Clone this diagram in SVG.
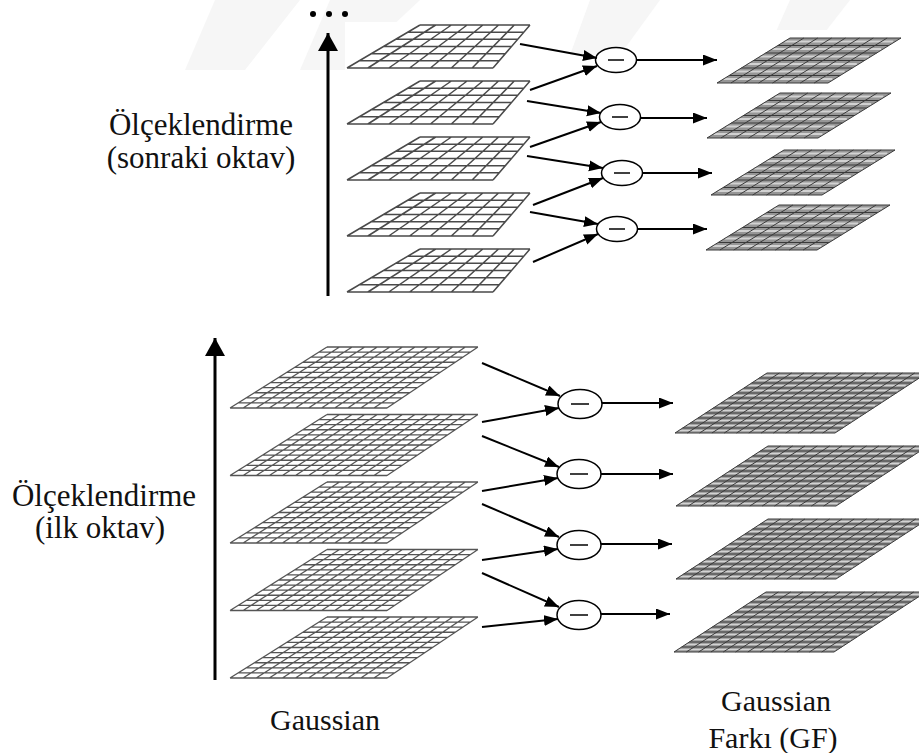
<svg xmlns="http://www.w3.org/2000/svg" xmlns:xlink="http://www.w3.org/1999/xlink" width="919" height="753" viewBox="0 0 919 753">
  <style>
    .lbl { font-family: "Liberation Serif", "Times New Roman", serif; font-size: 31px; fill: #111; text-anchor: middle; }
    .lbl2 { font-family: "Liberation Serif", "Times New Roman", serif; font-size: 30px; fill: #111; text-anchor: middle; }
    .gplane { fill: #ffffff; }
    .ggrid { fill: none; stroke: #4a4a4a; stroke-width: 1.5; }
    .ggridB { fill: none; stroke: #555; stroke-width: 1.3; }
    .dplane { fill: #969696; }
    .dhi { fill: none; stroke: #d2d2d2; stroke-width: 2; }
    .dgrid { fill: none; stroke: #3a3a3a; stroke-width: 1; }
    .conn { fill: none; stroke: #000; stroke-width: 2; }
    .axis { fill: none; stroke: #000; stroke-width: 3; }
    .op { fill: #fff; stroke: #000; stroke-width: 1.5; }
    .minus { stroke: #000; stroke-width: 1.5; }
    .wm { fill: #f6f6f6; }
  </style>
  <defs>
    <marker id="ah" markerUnits="userSpaceOnUse" markerWidth="15" markerHeight="12" refX="14" refY="5.5" orient="auto">
      <path d="M0,0 L14,5.5 L0,11 z" fill="#000"/>
    </marker>
    <marker id="ahBig" markerUnits="userSpaceOnUse" markerWidth="20" markerHeight="22" refX="18" refY="10" orient="auto">
      <path d="M0,0 L18,10 L0,20 z" fill="#000"/>
    </marker>

    <!-- upper octave Gaussian layer: 7 x 6 cells, slight perspective -->
    <g id="layerTopG">
      <polygon class="gplane" points="420,25 530,25 493,68 347,68"/>
      <path class="ggrid" d="M420,25 L347,68 M435.71,25 L367.86,68 M451.43,25 L388.71,68 M467.14,25 L409.57,68 M482.86,25 L430.43,68 M498.57,25 L451.29,68 M514.29,25 L472.14,68 M530,25 L493,68
        M420,25 L530,25 M407.83,32.17 L523.83,32.17 M395.67,39.33 L517.67,39.33 M383.5,46.5 L511.5,46.5 M371.33,53.67 L505.33,53.67 M359.17,60.83 L499.17,60.83 M347,68 L493,68"/>
    </g>

    <!-- upper octave difference layer: 8 x 6 shaded cells -->
    <g id="layerTopD">
      <polygon class="dplane" points="790,38 901,38 828,83 717,83"/>
      <path class="dhi" d="M784.3,41.5 h109 M772.2,49 h109 M760,56.5 h109 M747.8,64 h109 M735.7,71.5 h109 M723.5,79 h109"/>
      <path class="dgrid" d="M790,38 L717,83 M803.88,38 L730.88,83 M817.75,38 L744.75,83 M831.63,38 L758.63,83 M845.5,38 L772.5,83 M859.38,38 L786.38,83 M873.25,38 L800.25,83 M887.13,38 L814.13,83 M901,38 L828,83
        M790,38 h111 M777.83,45.5 h111 M765.67,53 h111 M753.5,60.5 h111 M741.33,68 h111 M729.17,75.5 h111 M717,83 h111"/>
    </g>

    <!-- first octave Gaussian layer: 12 x 12 cells -->
    <g id="layerBotG">
      <polygon class="gplane" points="327,347 478,347 387,408 230,408"/>
      <path class="ggridB" d="M327,347 L230,408 M339.58,347 L243.08,408 M352.17,347 L256.17,408 M364.75,347 L269.25,408 M377.33,347 L282.33,408 M389.92,347 L295.42,408 M402.5,347 L308.5,408 M415.08,347 L321.58,408 M427.67,347 L334.67,408 M440.25,347 L347.75,408 M452.83,347 L360.83,408 M465.42,347 L373.92,408 M478,347 L387,408
        M327,347 L478,347 M318.92,352.08 L470.42,352.08 M310.83,357.17 L462.83,357.17 M302.75,362.25 L455.25,362.25 M294.67,367.33 L447.67,367.33 M286.58,372.42 L440.08,372.42 M278.5,377.5 L432.5,377.5 M270.42,382.58 L424.92,382.58 M262.33,387.67 L417.33,387.67 M254.25,392.75 L409.75,392.75 M246.17,397.83 L402.17,397.83 M238.08,402.92 L394.58,402.92 M230,408 L387,408"/>
    </g>

    <!-- first octave difference layer: 13 x 12 shaded cells -->
    <g id="layerBotD">
      <polygon class="dplane" points="767,373 927,373 835,433 675,433"/>
      <path class="dhi" style="stroke-width:1.6" d="M763.17,375.5 h158 M755.5,380.5 h158 M747.83,385.5 h158 M740.17,390.5 h158 M732.5,395.5 h158 M724.83,400.5 h158 M717.17,405.5 h158 M709.5,410.5 h158 M701.83,415.5 h158 M694.17,420.5 h158 M686.5,425.5 h158 M678.83,430.5 h158"/>
      <path class="dgrid" d="M767,373 L675,433 M779.31,373 L687.31,433 M791.62,373 L699.62,433 M803.92,373 L711.92,433 M816.23,373 L724.23,433 M828.54,373 L736.54,433 M840.85,373 L748.85,433 M853.15,373 L761.15,433 M865.46,373 L773.46,433 M877.77,373 L785.77,433 M890.08,373 L798.08,433 M902.38,373 L810.38,433 M914.69,373 L822.69,433 M927,373 L835,433
        M767,373 h160 M759.33,378 h160 M751.67,383 h160 M744,388 h160 M736.33,393 h160 M728.67,398 h160 M721,403 h160 M713.33,408 h160 M705.67,413 h160 M698,418 h160 M690.33,423 h160 M682.67,428 h160 M675,433 h160"/>
    </g>

    <!-- subtraction operator -->
    <g id="opTop">
      <ellipse class="op" cx="0" cy="0" rx="20.5" ry="12.5"/>
      <line class="minus" x1="-8" y1="0" x2="8" y2="0"/>
    </g>
    <g id="opBot">
      <ellipse class="op" cx="0" cy="0" rx="22" ry="14.5"/>
      <line class="minus" x1="-9" y1="0" x2="9" y2="0"/>
    </g>
  </defs>

  <rect width="919" height="753" fill="#fff"/>

  <!-- faint background emblem -->
  <g id="emblem">
    <polygon class="wm" points="215,0 300,0 245,70 185,70"/>
    <polygon class="wm" points="330,0 420,0 345,70 300,70"/>
    <polygon class="wm" points="590,0 660,0 620,55 570,55"/>
    <polygon class="wm" points="790,0 850,0 815,45 770,45"/>
    <rect x="345" y="22" width="192" height="280" fill="#fff"/>
    <rect x="700" y="30" width="210" height="225" fill="#fff"/>
  </g>

  <!-- upper octave -->
  <g id="top-gaussian-1"><use xlink:href="#layerTopG"/></g>
  <g id="top-gaussian-2"><use xlink:href="#layerTopG" transform="translate(0,56)"/></g>
  <g id="top-gaussian-3"><use xlink:href="#layerTopG" transform="translate(0,112)"/></g>
  <g id="top-gaussian-4"><use xlink:href="#layerTopG" transform="translate(0,168)"/></g>
  <g id="top-gaussian-5"><use xlink:href="#layerTopG" transform="translate(0,224)"/></g>

  <g id="top-dog-1"><use xlink:href="#layerTopD"/></g>
  <g id="top-dog-2"><use xlink:href="#layerTopD" transform="translate(-10,55)"/></g>
  <g id="top-dog-3"><use xlink:href="#layerTopD" transform="translate(-6,112)"/></g>
  <g id="top-dog-4"><use xlink:href="#layerTopD" transform="translate(-11,167)"/></g>

  <g id="top-op-1"><use xlink:href="#opTop" transform="translate(616,60)"/></g>
  <g id="top-op-2"><use xlink:href="#opTop" transform="translate(620,117)"/></g>
  <g id="top-op-3"><use xlink:href="#opTop" transform="translate(622,173)"/></g>
  <g id="top-op-4"><use xlink:href="#opTop" transform="translate(617,229)"/></g>

  <!-- first octave -->
  <g id="bot-gaussian-1"><use xlink:href="#layerBotG"/></g>
  <g id="bot-gaussian-2"><use xlink:href="#layerBotG" transform="translate(0,67.5)"/></g>
  <g id="bot-gaussian-3"><use xlink:href="#layerBotG" transform="translate(0,135)"/></g>
  <g id="bot-gaussian-4"><use xlink:href="#layerBotG" transform="translate(0,202.5)"/></g>
  <g id="bot-gaussian-5"><use xlink:href="#layerBotG" transform="translate(0,270)"/></g>

  <g id="bot-dog-1"><use xlink:href="#layerBotD"/></g>
  <g id="bot-dog-2"><use xlink:href="#layerBotD" transform="translate(1,73)"/></g>
  <g id="bot-dog-3"><use xlink:href="#layerBotD" transform="translate(1,146)"/></g>
  <g id="bot-dog-4"><use xlink:href="#layerBotD" transform="translate(-1,219)"/></g>

  <g id="bot-op-1"><use xlink:href="#opBot" transform="translate(580,404)"/></g>
  <g id="bot-op-2"><use xlink:href="#opBot" transform="translate(579,474)"/></g>
  <g id="bot-op-3"><use xlink:href="#opBot" transform="translate(579,545)"/></g>
  <g id="bot-op-4"><use xlink:href="#opBot" transform="translate(579,615)"/></g>

  <!-- connectors -->
  <g id="connectors">
    <line class="conn" x1="520" y1="44" x2="597" y2="58" marker-end="url(#ah)"/>
    <line class="conn" x1="530" y1="90" x2="597" y2="66" marker-end="url(#ah)"/>
    <line class="conn" x1="637" y1="60" x2="717" y2="60" marker-end="url(#ah)"/>

    <line class="conn" x1="527" y1="101" x2="601" y2="113" marker-end="url(#ah)"/>
    <line class="conn" x1="530" y1="147" x2="601" y2="122" marker-end="url(#ah)"/>
    <line class="conn" x1="641" y1="118" x2="707" y2="118" marker-end="url(#ah)"/>

    <line class="conn" x1="527" y1="156" x2="603" y2="168" marker-end="url(#ah)"/>
    <line class="conn" x1="533" y1="205" x2="603" y2="178" marker-end="url(#ah)"/>
    <line class="conn" x1="643" y1="173" x2="712" y2="173" marker-end="url(#ah)"/>

    <line class="conn" x1="530" y1="212" x2="598" y2="224" marker-end="url(#ah)"/>
    <line class="conn" x1="533" y1="262" x2="598" y2="234" marker-end="url(#ah)"/>
    <line class="conn" x1="638" y1="229" x2="707" y2="229" marker-end="url(#ah)"/>

    <line class="conn" x1="482" y1="363" x2="560" y2="396" marker-end="url(#ah)"/>
    <line class="conn" x1="482" y1="422" x2="559" y2="408" marker-end="url(#ah)"/>
    <line class="conn" x1="602" y1="403" x2="673" y2="403" marker-end="url(#ah)"/>

    <line class="conn" x1="482" y1="436" x2="559" y2="467" marker-end="url(#ah)"/>
    <line class="conn" x1="482" y1="491" x2="558" y2="478" marker-end="url(#ah)"/>
    <line class="conn" x1="601" y1="474" x2="673" y2="474" marker-end="url(#ah)"/>

    <line class="conn" x1="482" y1="504" x2="559" y2="537" marker-end="url(#ah)"/>
    <line class="conn" x1="482" y1="560" x2="558" y2="549" marker-end="url(#ah)"/>
    <line class="conn" x1="601" y1="544" x2="672" y2="544" marker-end="url(#ah)"/>

    <line class="conn" x1="482" y1="573" x2="559" y2="607" marker-end="url(#ah)"/>
    <line class="conn" x1="482" y1="627" x2="558" y2="619" marker-end="url(#ah)"/>
    <line class="conn" x1="601" y1="614" x2="670" y2="614" marker-end="url(#ah)"/>

    <!-- scale axes -->
    <line class="axis" x1="328" y1="296" x2="328" y2="33" marker-end="url(#ahBig)"/>
    <line class="axis" x1="215" y1="680" x2="215" y2="338" marker-end="url(#ahBig)"/>
  </g>

  <!-- continuation dots -->
  <g id="dots">
    <circle cx="313" cy="14" r="3" fill="#000"/>
    <circle cx="329" cy="14" r="3" fill="#000"/>
    <circle cx="345" cy="14" r="3" fill="#000"/>
  </g>

  <!-- labels -->
  <g id="labels">
    <text class="lbl" x="201" y="135">Ölçeklendirme</text>
    <text class="lbl" x="201" y="168">(sonraki oktav)</text>
    <text class="lbl" x="104" y="506">Ölçeklendirme</text>
    <text class="lbl" x="100" y="538">(ilk oktav)</text>
    <text class="lbl2" x="325" y="730">Gaussian</text>
    <text class="lbl2" x="776" y="711">Gaussian</text>
    <text class="lbl2" x="773" y="748">Farkı (GF)</text>
  </g>
</svg>
